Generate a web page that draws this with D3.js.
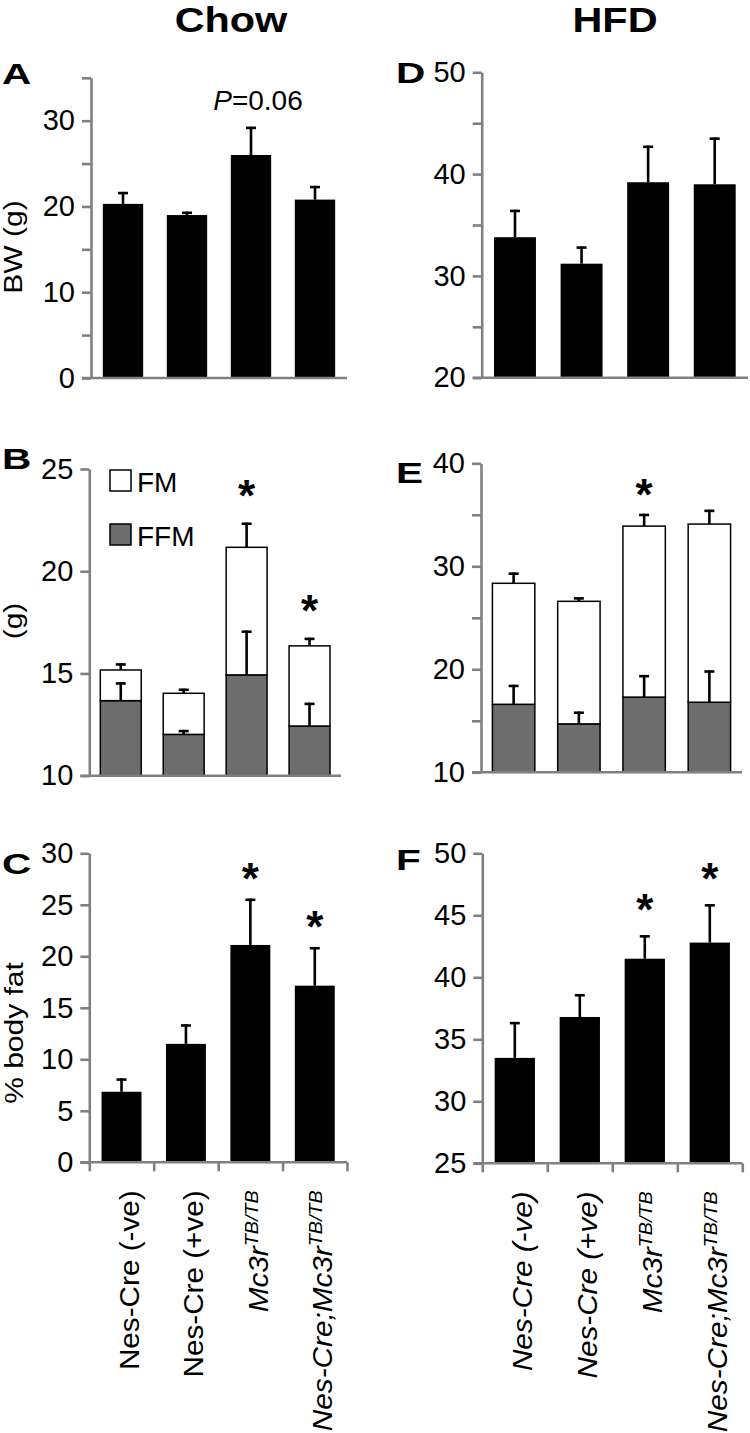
<!DOCTYPE html>
<html>
<head>
<meta charset="utf-8">
<script src="https://cdn.jsdelivr.net/npm/d3@7/dist/d3.min.js"></script>
<style>
  body { margin: 0; background: #fff; }
  text { font-family: "Liberation Sans", Arial, sans-serif; }
</style>
</head>
<body>
<script>
var W = 750, H = 1433;

// groups (same order in every panel)
var groups = ["Nes-Cre (-ve)", "Nes-Cre (+ve)", "Mc3r", "Nes-Cre;Mc3r"];

// A: body weight, chow (g)
var bw_chow = [20.3, 19.0, 26.0, 20.8];
var bw_chow_sem = [1.4, 0.4, 3.3, 1.6];
// D: body weight, HFD (g)
var bw_hfd = [33.8, 31.2, 39.2, 39.0];
var bw_hfd_sem = [2.7, 1.7, 3.6, 4.6];

// B: fat free mass + fat mass, chow (g)
var ffm_chow = [13.67, 12.02, 14.93, 12.43];
var ffm_chow_sem = [0.9, 0.22, 2.17, 1.14];
var fm_chow = [1.5, 2.01, 6.24, 3.92];
var fm_chow_sem = [0.33, 0.23, 1.21, 0.4];
// E: same, HFD
var ffm_hfd = [16.6, 14.7, 17.3, 16.8];
var ffm_hfd_sem = [1.9, 1.2, 2.15, 3.1];
var fm_hfd = [11.75, 11.9, 16.6, 17.3];
var fm_hfd_sem = [1.05, 0.4, 1.2, 1.4];

// C / F: % body fat
var fat_chow = [6.85, 11.5, 21.1, 17.15];
var fat_chow_sem = [1.3, 1.9, 4.5, 3.75];
var fat_hfd = [33.5, 36.8, 41.5, 42.8];
var fat_hfd_sem = [2.9, 1.85, 1.9, 3.1];

// significance marks
var star_B = [0, 0, 1, 1];
var star_E = [0, 0, 1, 0];
var star_C = [0, 0, 1, 1];
var star_F = [0, 0, 1, 1];

var axis_grey = "#808080";
var ffm_grey = "#6d6d6d";

var svg = d3.select("body").append("svg")
  .attr("width", W).attr("height", H);

svg.append("rect").attr("x", 0).attr("y", 0).attr("width", W).attr("height", H).attr("fill", "#fff");

var errbar = function(g, cx, ya, yb){
  g.append("line")
    .attr("x1", cx).attr("x2", cx).attr("y1", ya).attr("y2", yb)
    .attr("stroke", "#000").attr("stroke-width", 2.6);
  g.append("line")
    .attr("x1", cx - 5).attr("x2", cx + 5).attr("y1", yb + 1.2).attr("y2", yb + 1.2)
    .attr("stroke", "#000").attr("stroke-width", 2.6);
};

var draw_panel = function(p){
  var g = svg.append("g");
  var x = d3.scaleBand().domain(groups).range([p.x0, p.x1])
    .paddingInner(p.pad).paddingOuter(p.pad / 2);
  var y = d3.scaleLinear().domain(p.domain).range([p.yb, p.yt]);
  var base = p.domain[0];

  if (p.stacked){
    // FFM (grey) bottom segment
    g.selectAll(".ffm").data(groups).enter().append("rect")
      .attr("x", function(d){ return x(d); })
      .attr("width", x.bandwidth())
      .attr("y", function(d, i){ return y(p.ffm[i]); })
      .attr("height", function(d, i){ return y(base) - y(p.ffm[i]); })
      .attr("fill", ffm_grey).attr("stroke", "#000").attr("stroke-width", 1.5);
    // FM (white) top segment
    g.selectAll(".fm").data(groups).enter().append("rect")
      .attr("x", function(d){ return x(d); })
      .attr("width", x.bandwidth())
      .attr("y", function(d, i){ return y(p.ffm[i] + p.fm[i]); })
      .attr("height", function(d, i){ return y(p.ffm[i]) - y(p.ffm[i] + p.fm[i]); })
      .attr("fill", "#fff").attr("stroke", "#000").attr("stroke-width", 1.5);
    groups.forEach(function(d, i){
      var cx = x(d) + x.bandwidth() / 2;
      errbar(g, cx, y(p.ffm[i]), y(p.ffm[i] + p.ffm_sem[i]));
      var tot = p.ffm[i] + p.fm[i];
      errbar(g, cx, y(tot), y(tot + p.fm_sem[i]));
    });
  } else {
    g.selectAll(".bar").data(groups).enter().append("rect")
      .attr("x", function(d){ return x(d); })
      .attr("width", x.bandwidth())
      .attr("y", function(d, i){ return y(p.vals[i]); })
      .attr("height", function(d, i){ return y(base) - y(p.vals[i]); })
      .attr("fill", "#000");
    groups.forEach(function(d, i){
      var cx = x(d) + x.bandwidth() / 2;
      errbar(g, cx, y(p.vals[i]), y(p.vals[i] + p.sem[i]));
    });
  }

  // asterisks
  if (p.stars){
    groups.forEach(function(d, i){
      if (!p.stars[i]) return;
      var top = p.stacked ? p.ffm[i] + p.fm[i] + p.fm_sem[i] : p.vals[i] + p.sem[i];
      g.append("text")
        .attr("x", x(d) + x.bandwidth() / 2 + p.star_dx)
        .attr("y", y(top) - p.star_gap + 25)
        .attr("text-anchor", "middle")
        .style("font-size", "44px").style("font-weight", "bold")
        .text("*");
    });
  }

  // y axis
  var yAxis = d3.axisLeft(y)
    .tickValues(d3.range(p.domain[0], p.domain[1] + 0.01, 5))
    .tickSize(9).tickSizeOuter(0).tickPadding(7)
    .tickFormat(function(d){ return (d - p.domain[0]) % p.label_step == 0 || d % p.label_step == 0 ? d : ""; });
  var ya = g.append("g").attr("transform", "translate(" + p.x0 + ",0)").call(yAxis);
  ya.select(".domain").attr("stroke", axis_grey).attr("stroke-width", 2.6);
  ya.selectAll(".tick line").attr("stroke", axis_grey).attr("stroke-width", 2.6);
  ya.selectAll(".tick text")
    .style("font-size", "29px").style("font-family", "'Liberation Sans', Arial, sans-serif")
    .attr("fill", "#000");

  // x axis line
  g.append("line")
    .attr("x1", p.x0 - 9).attr("x2", p.x1)
    .attr("y1", p.yb).attr("y2", p.yb)
    .attr("stroke", axis_grey).attr("stroke-width", 2.6);

  if (p.xticks){
    var xb = d3.scaleLinear().domain([0, groups.length]).range([p.x0, p.x1]);
    var xa = g.append("g").attr("transform", "translate(0," + p.yb + ")")
      .call(d3.axisBottom(xb).tickValues(d3.range(0, groups.length + 1)).tickSize(9).tickSizeOuter(0).tickFormat(""));
    xa.select(".domain").remove();
    xa.selectAll(".tick line").attr("stroke", axis_grey).attr("stroke-width", 2.6);

    // group labels, rotated
    groups.forEach(function(d, i){
      var t = g.append("text")
        .attr("transform", "translate(" + (x(d) + x.bandwidth() / 2 + 8) + "," + (p.yb + 28) + ") rotate(-90) scale(1.1,1)")
        .attr("text-anchor", "end")
        .attr("dy", "0.35em")
        .style("font-size", "27px");
      var ital = p.all_italic || i >= 2;
      if (i == 3){
        t.append("tspan").style("font-style", "italic").text("Nes-Cre;Mc3r");
        t.append("tspan").style("font-style", "italic").style("font-size", "18px").attr("dy", "-10").text("TB/TB");
      } else if (i == 2){
        t.append("tspan").style("font-style", "italic").text("Mc3r");
        t.append("tspan").style("font-style", "italic").style("font-size", "18px").attr("dy", "-10").text("TB/TB");
      } else {
        t.append("tspan").style("font-style", ital ? "italic" : "normal").text(d);
      }
    });
  }

  // panel letter
  svg.append("text")
    .attr("transform", "translate(" + p.letter_x + "," + p.letter_y + ") scale(1.4,1)")
    .style("font-size", "29px").style("font-weight", "bold")
    .text(p.letter);

  return {x: x, y: y};
};

// Panels
var pA = draw_panel({letter: "A", letter_x: 2, letter_y: 84,
  x0: 91, x1: 347, yb: 378, yt: 77.8, domain: [0, 35], label_step: 10, pad: 0.37,
  vals: bw_chow, sem: bw_chow_sem});

draw_panel({letter: "D", letter_x: 396, letter_y: 83,
  x0: 481.7, x1: 748, yb: 377.7, yt: 72.3, domain: [20, 50], label_step: 10, pad: 0.37,
  vals: bw_hfd, sem: bw_hfd_sem});

draw_panel({letter: "B", letter_x: 2, letter_y: 469,
  x0: 89.3, x1: 341, yb: 775.7, yt: 469, domain: [10, 25], label_step: 5, pad: 0.35,
  stacked: true, ffm: ffm_chow, ffm_sem: ffm_chow_sem, fm: fm_chow, fm_sem: fm_chow_sem,
  stars: star_B, star_gap: 37, star_dx: 0});

draw_panel({letter: "E", letter_x: 396, letter_y: 483,
  x0: 481, x1: 742, yb: 772.3, yt: 463.3, domain: [10, 40], label_step: 10, pad: 0.35,
  stacked: true, ffm: ffm_hfd, ffm_sem: ffm_hfd_sem, fm: fm_hfd, fm_sem: fm_hfd_sem,
  stars: star_E, star_gap: 29, star_dx: 0});

draw_panel({letter: "C", letter_x: 2, letter_y: 874,
  x0: 89.3, x1: 347, yb: 1162.3, yt: 853.3, domain: [0, 30], label_step: 5, pad: 0.38,
  vals: fat_chow, sem: fat_chow_sem, stars: star_C, star_gap: 30, star_dx: 0, xticks: true});

draw_panel({letter: "F", letter_x: 396, letter_y: 870,
  x0: 482.3, x1: 742.3, yb: 1163.3, yt: 853.3, domain: [25, 50], label_step: 5, pad: 0.38,
  vals: fat_hfd, sem: fat_hfd_sem, stars: star_F, star_gap: 35, star_dx: 0, xticks: true, all_italic: true});

// P value over panel A, bar 3
var p_txt = svg.append("text")
  .attr("x", pA.x(groups[2]) + pA.x.bandwidth() / 2 + 7)
  .attr("y", pA.y(bw_chow[2] + bw_chow_sem[2]) - 17)
  .attr("text-anchor", "middle")
  .style("font-size", "28px");
p_txt.append("tspan").style("font-style", "italic").text("P");
p_txt.append("tspan").text("=0.06");

// legend in panel B
var legend_items = [["FM", "#fff"], ["FFM", ffm_grey]];
var leg = svg.append("g");
legend_items.forEach(function(it, i){
  leg.append("rect")
    .attr("x", 110).attr("y", 470 + i * 54).attr("width", 21).attr("height", 21)
    .attr("fill", it[1]).attr("stroke", "#000").attr("stroke-width", 1.5);
  leg.append("text")
    .attr("x", 137).attr("y", 491.5 + i * 54)
    .style("font-size", "28px")
    .text(it[0]);
});

// y axis titles (rotated)
var ytitles = [["BW (g)", 22, 247], ["(g)", 22, 621], ["% body fat", 23, 1033]];
ytitles.forEach(function(t){
  svg.append("text")
    .attr("transform", "translate(" + t[1] + "," + t[2] + ") rotate(-90) scale(1.2,1)")
    .attr("text-anchor", "middle")
    .style("font-size", "25px")
    .text(t[0]);
});

// column titles
var col_titles = [["Chow", 231], ["HFD", 615]];
col_titles.forEach(function(t){
  svg.append("text")
    .attr("transform", "translate(" + t[1] + ",32) scale(1.15,1)")
    .attr("text-anchor", "middle")
    .style("font-size", "36px").style("font-weight", "bold")
    .text(t[0]);
});
</script>
</body>
</html>
